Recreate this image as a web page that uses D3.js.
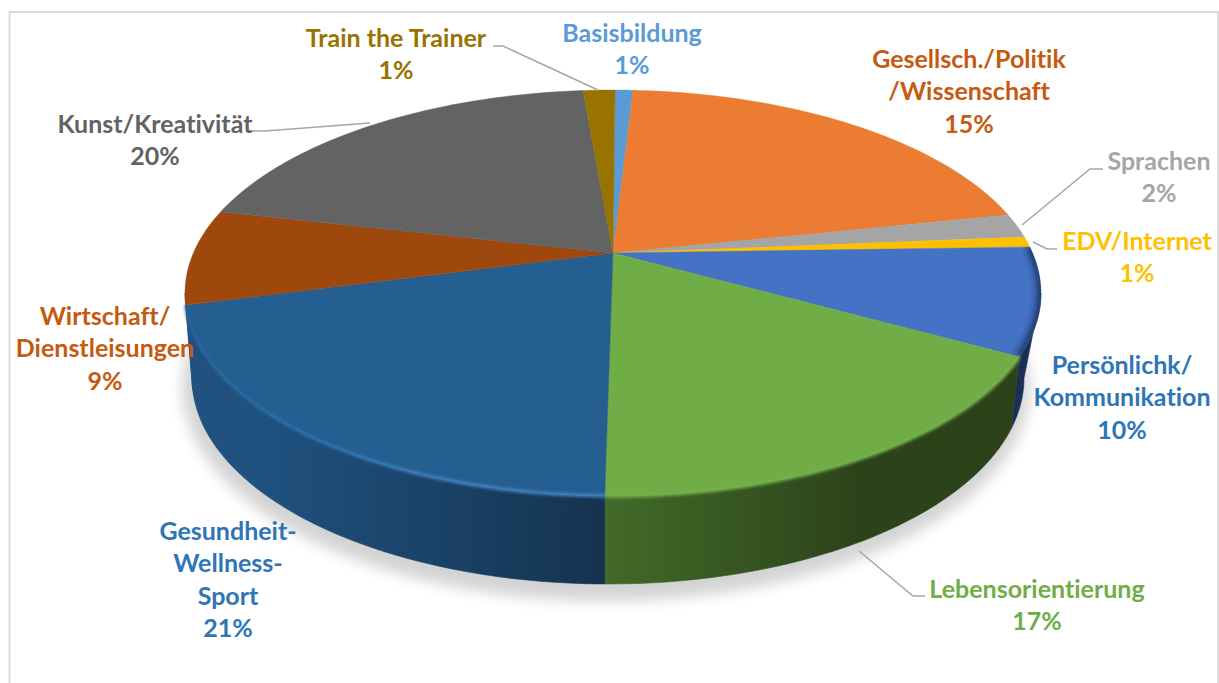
<!DOCTYPE html>
<html><head><meta charset="utf-8">
<script src="https://cdn.jsdelivr.net/npm/d3@7/dist/d3.min.js"></script>
<style>html,body{margin:0;padding:0;background:#fff;overflow:hidden}svg{display:block}text{font-variant-ligatures:none}</style>
</head><body><svg id="c" width="1219" height="683"></svg>
<script>
const categories = ["Basisbildung","Gesellsch./Politik /Wissenschaft","Sprachen","EDV/Internet","Persönlichk/ Kommunikation","Lebensorientierung","Gesundheit-Wellness-Sport","Wirtschaft/ Dienstleisungen","Kunst/Kreativität","Train the Trainer"];
const percentLabels = [1,15,2,1,10,17,21,9,20,1];
// slice extents as seen in the perspective picture (degrees of the drawn ellipse)
const visibleShares = [2.43,64.7,6.6,2.9,31.4,72.8,85.5,27,62.4,4.27];
const sliceColors = ["#5b9bd5","#eb7c31","#a5a5a5","#ffc000","#4472c4","#70ad47","#255e91","#9e480e","#636363","#997300"];
const labelColors = ["#5b9bd5","#c55a11","#a5a5a5","#ffc000","#2e75b6","#70ad47","#2e75b6","#c55a11","#636363","#997300"];
const labelLines = [["Basisbildung"],["Gesellsch./Politik","/Wissenschaft"],["Sprachen"],["EDV/Internet"],["Persönlichk/","Kommunikation"],["Lebensorientierung"],["Gesundheit-","Wellness-","Sport"],["Wirtschaft/","Dienstleisungen"],["Kunst/Kreativität"],["Train the Trainer"]];
// layout only
const labelAnchors = [[632,33],[969,59],[1159,161],[1137,241],[1122,365],[1037,589],[228,531],[105,316],[155,124],[396,38]];
const leaders = [[[493,46],[503,46],[598,90]],[[1103,169],[1090,169],[1022,225]],[[1057,249],[1047,249],[1033,242]],[[925,596],[913,596],[859,551]],[[252,131],[265,131],[370,123]]];
const wallStops = {4:["#1a3058","#1a2f56"],5:["#426a29","#2c431a"],6:["#20517f","#153350"],7:["#20517f","#20517f"]};
const wallRange = {4:[1000,1041],5:[605,860],6:[260,605],7:[185,200]};

const svg = d3.select("#c");
const defs = svg.append("defs");
const blur = (id,s)=>defs.append("filter").attr("id",id).attr("filterUnits","userSpaceOnUse").attr("x",0).attr("y",0).attr("width",1219).attr("height",683).append("feGaussianBlur").attr("stdDeviation",s);
blur("sh",7); blur("bev",1.6); blur("bev2",3);

// frame
svg.append("path").attr("d","M9.5 683V12H1218V683").attr("fill","none").attr("stroke","#d9d9d9").attr("stroke-width",1.8);

const sx = d3.scaleLinear().domain([-1,1]).range([185,1041]);
const sy = d3.scaleLinear().domain([-1,1]).range([90,496]);
const wallX = d3.scaleLinear().domain([185,605,1020,1041]).range([192,605,1012,1024]);
const B = {cx:608,cy:378,rx:416,ry:206};
const bottomY = x => { const t=Math.min(1,Math.abs(x-B.cx)/B.rx); return B.cy+B.ry*Math.sqrt(1-t*t); };
const topPt = a => [sx(Math.sin(a)), sy(-Math.cos(a))];
const arcPts = (a0,a1) => d3.range(0,61).map(i=>topPt(a0+(a1-a0)*i/60));
const line = d3.line();
const apex = [613,253];
const start = 0.27*Math.PI/180;

const arcs = d3.pie().value(d=>d).sort(null).startAngle(start).endAngle(start+2*Math.PI)(visibleShares);

// shadow
svg.append("ellipse").attr("cx",B.cx-2).attr("cy",B.cy+9).attr("rx",B.rx+8).attr("ry",B.ry+8).attr("fill","#000").attr("opacity",.17).attr("filter","url(#sh)");

// walls
arcs.forEach((d,i)=>{
  const a0=Math.max(d.startAngle,Math.PI/2), a1=Math.min(d.endAngle,3*Math.PI/2);
  if(a1<=a0) return;
  const st=wallStops[i]||[sliceColors[i],sliceColors[i]], r=wallRange[i]||[185,1041];
  const g=defs.append("linearGradient").attr("id","w"+i).attr("gradientUnits","userSpaceOnUse").attr("x1",r[0]).attr("x2",r[1]).attr("y1",0).attr("y2",0);
  g.append("stop").attr("offset",0).attr("stop-color",st[0]);
  g.append("stop").attr("offset",1).attr("stop-color",st[1]);
  const tp=arcPts(a0,a1);
  const bp=tp.map(p=>{const x=wallX(p[0]);return [x,bottomY(x)];}).reverse();
  svg.append("path").attr("d",line(tp.concat(bp))+"Z").attr("fill",`url(#w${i})`).attr("stroke",`url(#w${i})`).attr("stroke-width",.6);
});

// top faces
arcs.forEach((d,i)=>{
  const pts=[apex].concat(arcPts(d.startAngle,d.endAngle));
  svg.append("path").attr("d",line(pts)+"Z").attr("fill",sliceColors[i]).attr("stroke",sliceColors[i]).attr("stroke-width",.4);
});
// rim of the slices facing the viewer
const rimGrad=defs.append("linearGradient").attr("id","rimB").attr("gradientUnits","userSpaceOnUse").attr("x1",187).attr("x2",460).attr("y1",0).attr("y2",0);
rimGrad.append("stop").attr("offset",0).attr("stop-color","#28659c");
rimGrad.append("stop").attr("offset",.45).attr("stop-color","#2f78b6");
rimGrad.append("stop").attr("offset",1).attr("stop-color","#4a90d2");
arcs.forEach((d,i)=>{
  if(i<4||i>6) return;
  const pts=[apex].concat(arcPts(d.startAngle,d.endAngle));
  defs.append("clipPath").attr("id","cl"+i).append("path").attr("d",line(pts)+"Z");
  const rim=line(arcPts(d.startAngle,d.endAngle));
  if(i==4){
    svg.append("g").attr("clip-path","url(#cl4)").append("path").attr("d",rim).attr("fill","none").attr("stroke","#14264a").attr("stroke-width",8).attr("opacity",.8).attr("filter","url(#bev2)");
  } else {
    svg.append("path").attr("d",rim).attr("fill","none").attr("stroke",i==6?"url(#rimB)":"#74b04a").attr("stroke-width",i==6?3:3.5).attr("opacity",i==6?.9:1).attr("filter","url(#bev)");
  }
});

// leaders
svg.selectAll("path.ld").data(leaders).join("path").attr("class","ld").attr("d",d=>line(d)).attr("fill","none").attr("stroke","#a6a6a6").attr("stroke-width",1.5);

// labels
const lh=32.5;
categories.forEach((c,i)=>{
  const [x,y]=labelAnchors[i];
  const lines=labelLines[i].concat([percentLabels[i]+"%"]);
  const t=svg.append("text").attr("text-anchor","middle").attr("font-family","Lato, 'Open Sans', sans-serif").attr("font-weight",700).attr("font-size",25).attr("fill",labelColors[i]);
  lines.forEach((l,j)=>t.append("tspan").attr("x",x).attr("y",y+j*lh+8.5).text(l));
});
</script></body></html>
